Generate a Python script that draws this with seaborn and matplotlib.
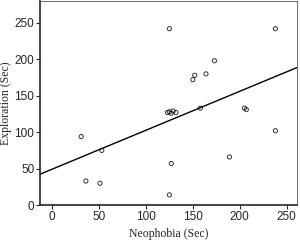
import numpy as np
import pandas as pd
import matplotlib
matplotlib.use('Agg')
import matplotlib.pyplot as plt
import seaborn as sns

# valores
neofobia = [31, 53, 36, 51, 125, 173, 164, 152, 150, 238,
            123, 125, 127, 129, 132, 158, 205, 207,
            127, 125, 189, 238]
exploracao = [94, 75, 33, 30, 242, 198, 180, 178, 172, 242,
              127, 128, 126, 129, 127, 133, 133, 131,
              57, 14, 66, 102]

dados = pd.DataFrame({'Neophobia (Sec)': neofobia, 'Exploration (Sec)': exploracao})

sns.set_style('ticks')
fig = plt.figure(figsize=(3, 2.41), dpi=100)
ax = fig.add_axes([0.133, 0.149, 0.857, 0.847])
# limites antes do regplot para a reta ir de ponta a ponta
ax.set_xlim(-13, 261)
ax.set_ylim(0, 280)

sns.regplot(data=dados, x='Neophobia (Sec)', y='Exploration (Sec)', ci=None, truncate=False,
            scatter_kws={'s': 9, 'facecolors': 'none', 'edgecolors': 'black', 'linewidths': 0.7},
            line_kws={'color': 'black', 'linewidth': 1.0}, ax=ax)

ax.set_xlim(-13, 261)
ax.set_ylim(0, 280)
ax.set_xticks([0, 50, 100, 150, 200, 250])
ax.set_yticks([0, 50, 100, 150, 200, 250])
ax.tick_params(labelsize=8.5, length=3, width=0.8, pad=1)
for lab in ax.get_xticklabels() + ax.get_yticklabels():
    lab.set_family('Liberation Sans')
ax.set_xlabel('Neophobia (Sec)', family='Liberation Serif', fontsize=8.5, labelpad=4)
ax.set_ylabel('Exploration (Sec)', family='Liberation Serif', fontsize=8.5, labelpad=2)
for lado in ['left', 'bottom']:
    ax.spines[lado].set_linewidth(1.2)
for lado in ['top', 'right']:
    ax.spines[lado].set_linewidth(0.6)
    ax.spines[lado].set_color('#555555')

fig.savefig('out.png', dpi=100)
